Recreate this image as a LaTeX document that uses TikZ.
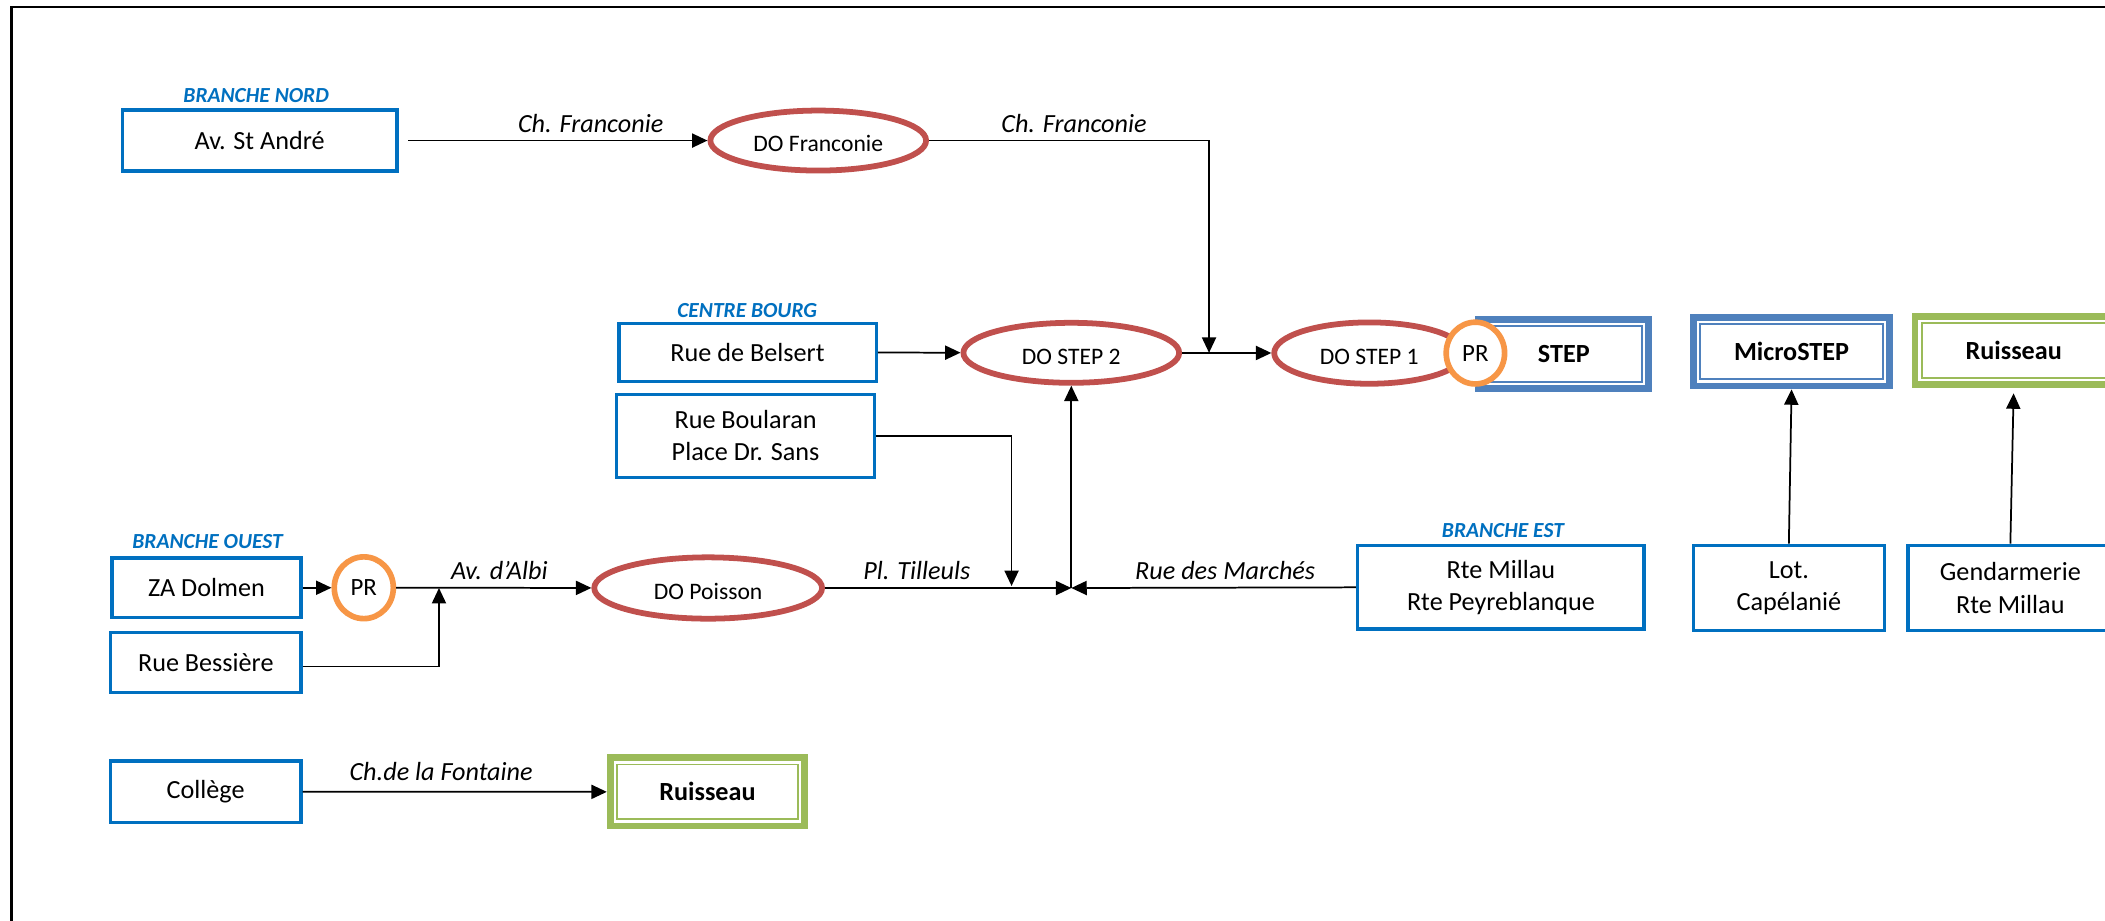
\documentclass[tikz,border=0pt]{standalone}
\usepackage{fontspec}
\setmainfont{Carlito}
\usetikzlibrary{shapes.geometric,arrows.meta}
\definecolor{boxblue}{HTML}{0070C0}
\definecolor{dored}{HTML}{C0504D}
\definecolor{prorange}{HTML}{F79646}
\definecolor{stepblue}{HTML}{4F81BD}
\definecolor{rgreen}{HTML}{9BBB59}
\tikzset{
 every node/.style={inner sep=0pt},
 src/.style={draw=boxblue, line width=2.6pt, fill=white, align=center, font=\fontsize{19.5}{24}\selectfont},
 doell/.style={ellipse, draw=dored, line width=4.3pt, fill=white, font=\fontsize{17.6}{20}\selectfont, text height=17pt, text depth=0pt},
 prc/.style={ellipse, draw=prorange, line width=4.2pt, fill=white, font=\fontsize{18.5}{20}\selectfont},
 dbl/.style={draw=#1, line width=5pt, fill=white, font=\bfseries\fontsize{19.5}{24}\selectfont},
 inl/.style={draw=#1, line width=1.3pt},
 hdr/.style={text=boxblue, font=\bfseries\itshape\fontsize{16}{18}\selectfont},
 lbl/.style={font=\itshape\fontsize{19.5}{24}\selectfont},
 arr/.style={line width=1.3pt, -{Triangle[length=11.5pt,width=10.5pt]}},
}
\begin{document}
\begin{tikzpicture}[x=1pt,y=-1pt]
\useasboundingbox (0,0) rectangle (1568,686);
\clip (0,0) rectangle (1568,686);
\fill[white] (0,0) rectangle (1568,686);
% frame
\draw[line width=1.6pt] (1600,5) -- (8.6,5) -- (8.6,700);

% headers
\node[hdr] (hNord) at (190.8,70.8) {BRANCHE NORD};
\node[hdr] (hCentre) at (556.6,231) {CENTRE BOURG};
\node[hdr] (hOuest) at (154.6,403.6) {BRANCHE OUEST};
\node[hdr] (hEst) at (1119.5,395) {BRANCHE EST};

% source boxes
\node[src, minimum width=204.6pt, minimum height=45.3pt] (avstandre) at (193.4,104.7) {Av. St André};
\node[src, minimum width=191.8pt, minimum height=43.3pt] (belsert) at (556.8,262.5) {Rue de Belsert};
\node[src, minimum width=192.1pt, minimum height=61.8pt] (boularan) at (555.4,324.6) {Rue Boularan\\Place Dr. Sans};
\node[src, minimum width=140.8pt, minimum height=44.4pt] (zadolmen) at (153.8,437.8) {ZA Dolmen};
\node[src, minimum width=141.8pt, minimum height=44.4pt] (bessiere) at (153.3,493.5) {Rue Bessière};
\node[src, minimum width=141.7pt, minimum height=45.8pt] (college) at (153.2,589.8) {Collège};
\node[src, minimum width=213.4pt, minimum height=62.4pt] (rtemillau) at (1118,437.5) {Rte Millau\\Rte Peyreblanque};
\node[src, minimum width=142.4pt, minimum height=63.4pt] (lot) at (1332.5,438) {Lot.\\Capélanié};
\node[src, minimum width=152.4pt, minimum height=63.4pt] (gend) at (1497.5,438) {Gendarmerie\\Rte Millau};

% DO ellipses
\node[doell, minimum width=160.7pt, minimum height=44.7pt] (dofranconie) at (609.5,104.7) {DO Franconie};
\node[doell, minimum width=160.7pt, minimum height=44.7pt] (dostep2) at (798,262.8) {DO STEP 2};
\node[doell, minimum width=141.7pt, minimum height=45.7pt] (dostep1) at (1020,263) {DO STEP 1};
\node[doell, minimum width=169.7pt, minimum height=45.7pt] (dopoisson) at (527.5,438) {DO Poisson};

% double boxes
\node[dbl=stepblue, minimum width=126.7pt, minimum height=51.5pt] (step) at (1164.85,263.75) {STEP};
\draw[inl=stepblue] ([shift={(7.5pt,-7.5pt)}]step.north west) rectangle ([shift={(-7.5pt,7.5pt)}]step.south east);
\node[dbl=stepblue, minimum width=146pt, minimum height=51pt] (microstep) at (1334.5,262) {MicroSTEP};
\draw[inl=stepblue] ([shift={(7.5pt,-7.5pt)}]microstep.north west) rectangle ([shift={(-7.5pt,7.5pt)}]microstep.south east);
\node[dbl=rgreen, minimum width=147pt, minimum height=51pt] (ruisseauA) at (1500,261) {Ruisseau};
\draw[inl=rgreen] ([shift={(7.5pt,-7.5pt)}]ruisseauA.north west) rectangle ([shift={(-7.5pt,7.5pt)}]ruisseauA.south east);
\node[dbl=rgreen, minimum width=145pt, minimum height=50.7pt] (ruisseauB) at (527,589.85) {Ruisseau};
\draw[inl=rgreen] ([shift={(7.5pt,-7.5pt)}]ruisseauB.north west) rectangle ([shift={(-7.5pt,7.5pt)}]ruisseauB.south east);

% PR circles
\node[prc, minimum width=44pt, minimum height=46pt] (prA) at (271,437.8) {PR};
\node[prc, minimum width=43.5pt, minimum height=46pt] (prB) at (1099,263) {PR};

% junction coordinates
\coordinate (j1) at (900.6,262.8);
\coordinate (j2) at (753.5,436.5);
\coordinate (j3) at (798,438);
\coordinate (j4) at (327,438);

% connectors
\draw[arr, shorten <=7pt] (avstandre) -- (dofranconie);
\draw[arr] (dofranconie.east) -| (j1);
\draw[arr] (belsert) -- (dostep2);
\draw[arr] (dostep2) -- (dostep1);
\draw[arr] (boularan.east) -| (j2);
\draw[arr] (dopoisson.east) -- (j3);
\draw[arr] (rtemillau.west) -- (j3);
\draw[arr] (j3) -- (dostep2.south);
\draw[arr] (zadolmen) -- (prA);
\draw[arr] (prA) -- (dopoisson);
\draw[arr] ([yshift=-3pt]bessiere.east) -| (j4);
\draw[arr] (college) -- (ruisseauB);
\draw[arr] (lot.north) -- (microstep.south);
\draw[arr, shorten >=4pt] (gend.north) -- (ruisseauA.south);

% labels
\node[lbl] (l1) at (440,91.9) {Ch. Franconie};
\node[lbl] (l2) at (800,91.9) {Ch. Franconie};
\node[lbl] (l3) at (372,424.6) {Av. d’Albi};
\node[lbl] (l4) at (683,424.6) {Pl. Tilleuls};
\node[lbl] (l5) at (912.6,424.6) {Rue des Marchés};
\node[lbl] (l6) at (328.6,574.8) {Ch.de la Fontaine};
\end{tikzpicture}
\end{document}
